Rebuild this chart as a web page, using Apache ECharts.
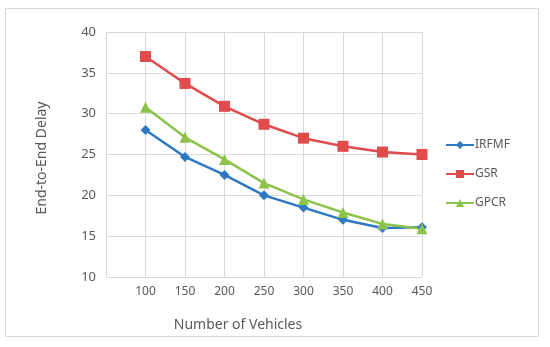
<!DOCTYPE html>
<html><head><meta charset="utf-8">
<script src="https://cdn.jsdelivr.net/npm/echarts@6/dist/echarts.min.js"></script>
<style>html,body{margin:0;padding:0;background:#fff}#c{width:550px;height:347px}</style>
</head><body><div id="c"></div>
<script>
const vehicles = [100, 150, 200, 250, 300, 350, 400, 450];
const irfmf = [28, 24.7, 22.5, 20, 18.5, 17, 16, 16.1];
const gsr = [37, 33.7, 30.9, 28.7, 27, 26, 25.3, 25];
const gpcr = [30.8, 27.1, 24.4, 21.5, 19.5, 17.9, 16.5, 15.9];
const yTicks = [10, 15, 20, 25, 30, 35, 40];
const seriesNames = ['IRFMF', 'GSR', 'GPCR'];

const pairs = arr => vehicles.map((v, i) => [v, arr[i]]);
const chart = echarts.init(document.getElementById('c'), null, {renderer: 'canvas'});
const font = 'Noto Sans';
const mk = (name, data, color, symbol, size) => ({
  name, type: 'line', data: pairs(data), symbol, symbolSize: size,
  lineStyle: {color, width: 2.5}, itemStyle: {color}, animation: false
});
chart.setOption({
  animation: false,
  backgroundColor: '#fff',
  grid: {left: 106, right: 128, top: 32, bottom: 70},
  xAxis: {
    type: 'value', min: 50, max: 450, interval: 50,
    axisLine: {show: false}, axisTick: {show: false},
    splitLine: {show: true, lineStyle: {color: '#d9d9d9', width: 1}},
    axisLabel: {color: '#595959', fontFamily: font, fontSize: 12, margin: 9,
      formatter: v => vehicles.indexOf(v) >= 0 ? String(v) : ''}
  },
  yAxis: {
    type: 'value', min: yTicks[0], max: yTicks[yTicks.length - 1], interval: 5,
    axisLine: {show: false}, axisTick: {show: false},
    splitLine: {show: true, lineStyle: {color: '#d9d9d9', width: 1}},
    axisLabel: {color: '#595959', fontFamily: font, fontSize: 13, margin: 10}
  },
  legend: {
    orient: 'vertical', left: 440, top: 134, itemGap: 17,
    itemWidth: 28, itemHeight: 10,
    textStyle: {color: '#595959', fontFamily: font, fontSize: 12, padding: [0, 0, 0, -4]},
    data: seriesNames
  },
  series: [
    mk(seriesNames[0], irfmf, '#2E78C4', 'diamond', 10),
    mk(seriesNames[1], gsr, '#E04B4B', 'rect', 11),
    mk(seriesNames[2], gpcr, '#8CC34B', 'triangle', 11)
  ],
  graphic: [
    {type: 'rect', shape: {x: 5.5, y: 8.5, width: 533, height: 328},
      style: {fill: 'none', stroke: '#d9d9d9', lineWidth: 1}, silent: true, z: -1},
    {type: 'text', x: 42, y: 158, rotation: Math.PI / 2,
      style: {text: 'End-to-End Delay', fill: '#595959', font: '14px "Noto Sans"',
        textAlign: 'center', textVerticalAlign: 'middle'}},
    {type: 'text', x: 238, y: 325,
      style: {text: 'Number of Vehicles', fill: '#595959', font: '14px "Noto Sans"',
        textAlign: 'center', textVerticalAlign: 'middle'}}
  ]
});
</script></body></html>
